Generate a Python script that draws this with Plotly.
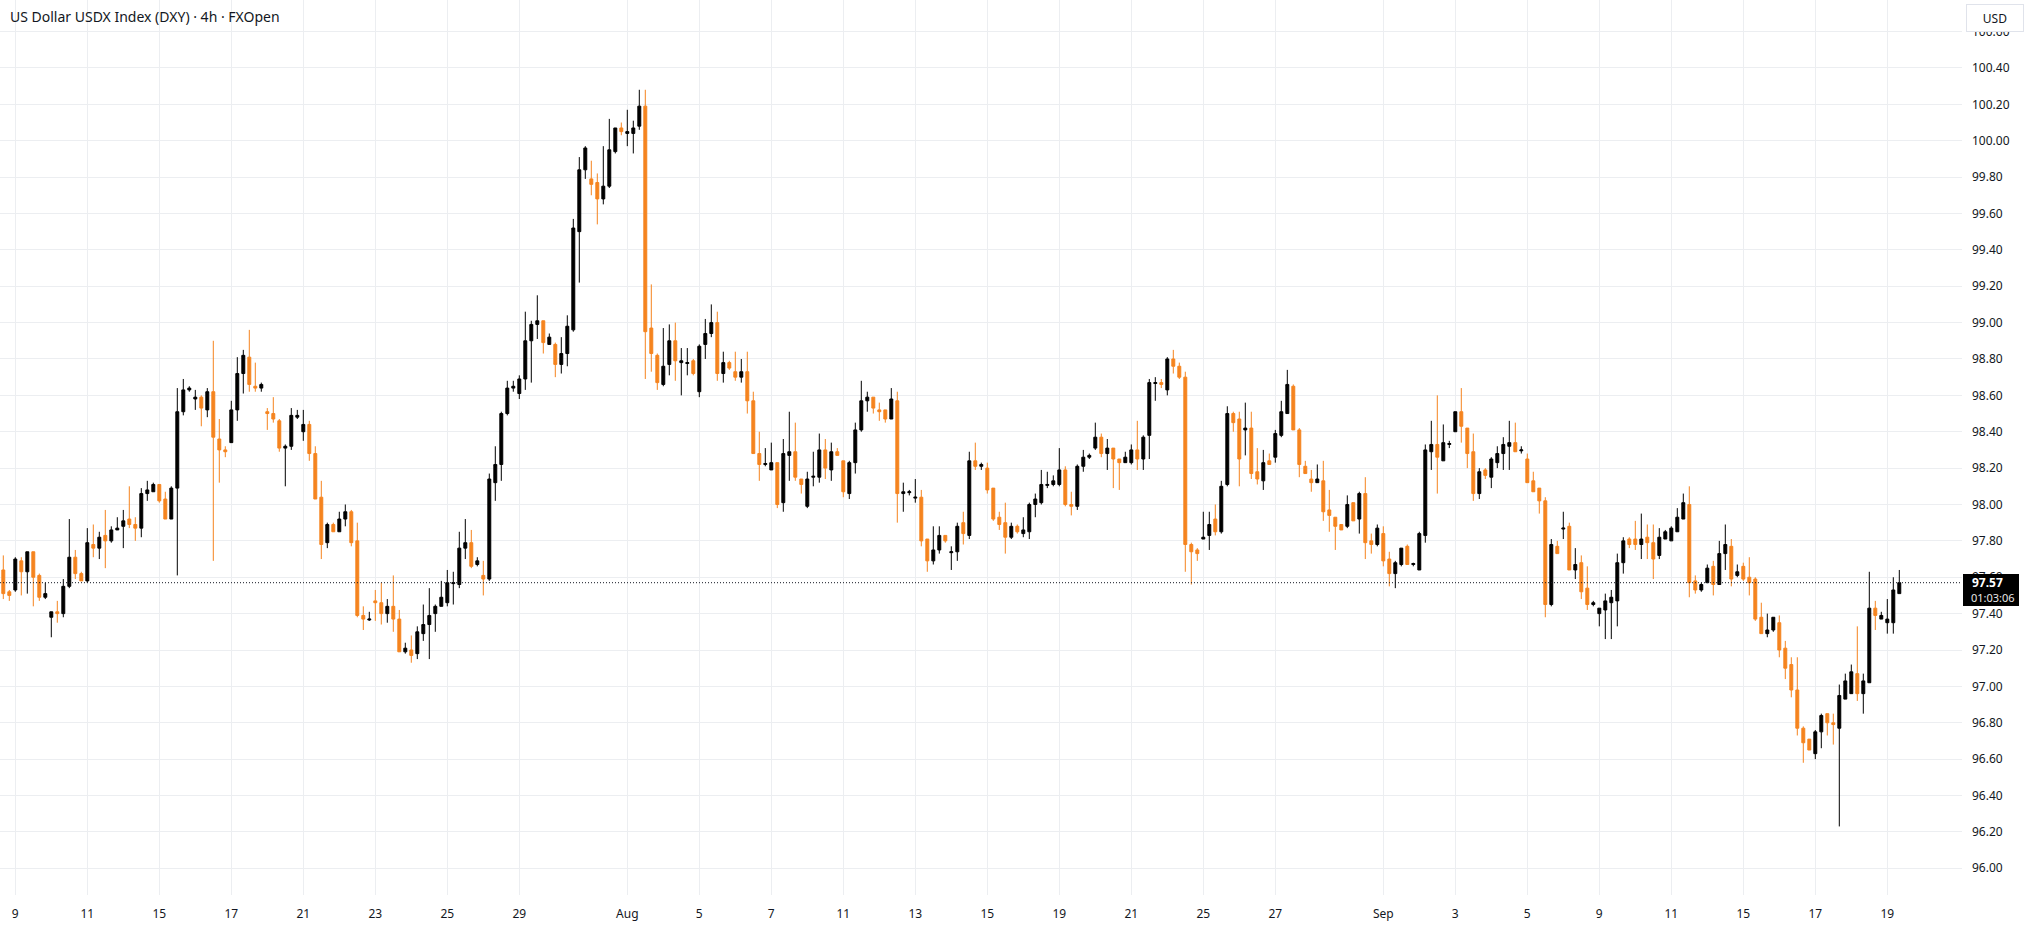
import plotly.graph_objects as go

# ---------------- data (4h candles, oldest first) ----------------
opens = [
    97.64, 97.52, 97.53, 97.69, 97.63, 97.74, 97.61, 97.49, 97.38, 97.41,
    97.40, 97.55, 97.71, 97.62, 97.58, 97.78, 97.76, 97.83, 97.80, 97.86,
    97.88, 97.92, 97.89, 97.87, 98.06, 98.07, 98.11, 98.03, 97.92, 98.09,
    98.51, 98.63, 98.58, 98.59, 98.52, 98.62, 98.36, 98.30, 98.34, 98.52,
    98.72, 98.81, 98.65, 98.64, 98.51, 98.50, 98.46, 98.31, 98.32, 98.48,
    98.40, 98.44, 98.28, 98.04, 97.79, 97.89, 97.85, 97.92, 97.96, 97.80,
    97.39, 97.365, 97.47, 97.46, 97.40, 97.44, 97.37, 97.19, 97.20, 97.18,
    97.29, 97.34, 97.40, 97.44, 97.46, 97.565, 97.56, 97.76, 97.79, 97.67,
    97.61, 97.59, 98.12, 98.22, 98.50, 98.64, 98.61, 98.69, 98.90, 98.99,
    99.01, 98.88, 98.88, 98.77, 98.83, 98.96, 99.50, 99.84, 99.79, 99.77,
    99.68, 99.75, 99.94, 100.07, 100.04, 100.04, 100.08, 100.19, 98.97, 98.82,
    98.66, 98.77, 98.90, 98.78, 98.775, 98.79, 98.62, 98.88, 98.94, 99.00,
    98.72, 98.78, 98.73, 98.70, 98.73, 98.57, 98.28, 98.22, 98.19, 98.23,
    98.01, 98.27, 98.29, 98.14, 97.99, 98.15, 98.15, 98.30, 98.19, 98.29,
    98.24, 98.06, 98.23, 98.41, 98.57, 98.59, 98.52, 98.52, 98.47, 98.57,
    98.06, 98.065, 98.035, 98.04, 97.81, 97.69, 97.75, 97.83, 97.735, 97.74,
    97.90, 97.83, 98.24, 98.21, 98.20, 98.09, 97.93, 97.90, 97.82, 97.88,
    97.84, 97.85, 98.00, 98.01, 98.105, 98.11, 98.11, 98.19, 98.00, 97.99,
    98.21, 98.26, 98.31, 98.37, 98.28, 98.31, 98.25, 98.23, 98.23, 98.30,
    98.25, 98.38, 98.665, 98.67, 98.63, 98.80, 98.76, 98.70, 97.78, 97.75,
    97.81, 97.83, 97.92, 97.85, 98.11, 98.50, 98.47, 98.41, 98.42, 98.18,
    98.13, 98.24, 98.26, 98.38, 98.50, 98.65, 98.41, 98.21, 98.14, 98.12,
    98.13, 97.97, 97.93, 97.89, 97.88, 98.01, 97.92, 98.06, 97.80, 97.78,
    97.84, 97.70, 97.62, 97.67, 97.77, 97.67, 97.64, 97.83, 98.29, 98.33,
    98.24, 98.33, 98.40, 98.51, 98.42, 98.29, 98.06, 98.19, 98.15, 98.23,
    98.28, 98.32, 98.34, 98.295, 98.25, 98.13, 98.09, 98.02, 97.45, 97.77,
    97.865, 97.88, 97.64, 97.68, 97.54, 97.45, 97.40, 97.42, 97.46, 97.47,
    97.68, 97.81, 97.81, 97.78, 97.82, 97.79, 97.72, 97.81, 97.80, 97.85,
    97.92, 98.00, 97.58, 97.53, 97.57, 97.66, 97.56, 97.73, 97.77, 97.61,
    97.66, 97.60, 97.59, 97.38, 97.29, 97.31, 97.35, 97.21, 97.12, 96.98,
    96.77, 96.71, 96.63, 96.75, 96.85, 96.80, 96.77, 96.93, 96.96, 97.07,
    96.96, 97.02, 97.43, 97.37, 97.35, 97.35, 97.51,
]
highs = [
    97.72, 97.53, 97.71, 97.71, 97.74, 97.74, 97.62, 97.57, 97.41, 97.47,
    97.59, 97.92, 97.75, 97.63, 97.87, 97.89, 97.85, 97.97, 97.88, 97.93,
    97.97, 98.10, 97.93, 98.09, 98.13, 98.12, 98.11, 98.07, 98.10, 98.64,
    98.69, 98.65, 98.63, 98.60, 98.64, 98.90, 98.47, 98.32, 98.57, 98.81,
    98.85, 98.96, 98.78, 98.67, 98.53, 98.59, 98.47, 98.33, 98.53, 98.52,
    98.52, 98.46, 98.32, 98.13, 97.90, 97.90, 97.96, 98.00, 97.97, 97.90,
    97.44, 97.41, 97.53, 97.57, 97.48, 97.61, 97.42, 97.24, 97.28, 97.33,
    97.45, 97.54, 97.45, 97.58, 97.64, 97.63, 97.85, 97.92, 97.86, 97.71,
    97.69, 98.17, 98.32, 98.51, 98.68, 98.68, 98.71, 99.06, 99.01, 99.15,
    99.01, 98.94, 98.89, 98.92, 99.04, 99.57, 99.91, 99.97, 99.89, 99.82,
    99.97, 100.12, 100.07, 100.10, 100.17, 100.11, 100.28, 100.28, 99.21, 98.83,
    98.97, 98.99, 99.00, 98.86, 98.86, 98.80, 98.88, 99.02, 99.10, 99.06,
    98.84, 98.79, 98.84, 98.80, 98.84, 98.62, 98.40, 98.31, 98.34, 98.23,
    98.36, 98.51, 98.45, 98.14, 98.18, 98.29, 98.39, 98.36, 98.34, 98.31,
    98.24, 98.24, 98.45, 98.68, 98.62, 98.59, 98.56, 98.52, 98.64, 98.62,
    98.12, 98.08, 98.14, 98.08, 97.81, 97.88, 97.88, 97.83, 97.77, 97.90,
    97.96, 98.29, 98.34, 98.23, 98.23, 98.09, 97.96, 98.01, 97.90, 97.89,
    97.93, 98.01, 98.06, 98.19, 98.18, 98.16, 98.31, 98.21, 98.07, 98.22,
    98.30, 98.28, 98.45, 98.39, 98.36, 98.31, 98.25, 98.29, 98.33, 98.46,
    98.38, 98.69, 98.70, 98.69, 98.81, 98.85, 98.78, 98.73, 97.79, 97.76,
    97.96, 97.96, 98.00, 98.13, 98.54, 98.51, 98.51, 98.56, 98.51, 98.31,
    98.30, 98.28, 98.41, 98.57, 98.74, 98.66, 98.42, 98.24, 98.19, 98.22,
    98.24, 98.08, 97.93, 97.89, 98.05, 98.01, 98.07, 98.15, 97.84, 97.89,
    97.88, 97.74, 97.69, 97.76, 97.78, 97.68, 97.85, 98.33, 98.46, 98.60,
    98.44, 98.35, 98.51, 98.64, 98.42, 98.39, 98.20, 98.20, 98.26, 98.32,
    98.37, 98.46, 98.45, 98.32, 98.28, 98.18, 98.09, 98.04, 97.81, 97.80,
    97.96, 97.90, 97.76, 97.72, 97.66, 97.47, 97.43, 97.51, 97.53, 97.73,
    97.82, 97.82, 97.91, 97.95, 97.89, 97.89, 97.87, 97.86, 97.88, 97.98,
    98.06, 98.10, 97.61, 97.57, 97.67, 97.69, 97.80, 97.89, 97.81, 97.67,
    97.68, 97.71, 97.60, 97.46, 97.40, 97.38, 97.39, 97.25, 97.16, 97.16,
    96.78, 96.71, 96.76, 96.85, 96.85, 96.85, 97.01, 97.07, 97.12, 97.33,
    97.07, 97.63, 97.47, 97.41, 97.48, 97.60, 97.64,
]
lows = [
    97.48, 97.47, 97.52, 97.50, 97.51, 97.44, 97.47, 97.48, 97.27, 97.35,
    97.38, 97.54, 97.59, 97.58, 97.57, 97.71, 97.70, 97.65, 97.79, 97.86,
    97.76, 97.87, 97.80, 97.82, 98.02, 98.07, 98.01, 97.92, 97.92, 97.61,
    98.49, 98.62, 98.52, 98.43, 98.48, 97.69, 98.12, 98.26, 98.34, 98.46,
    98.61, 98.62, 98.62, 98.62, 98.41, 98.45, 98.29, 98.10, 98.30, 98.47,
    98.35, 98.24, 98.03, 97.70, 97.76, 97.85, 97.85, 97.88, 97.77, 97.38,
    97.31, 97.36, 97.36, 97.34, 97.35, 97.30, 97.19, 97.18, 97.13, 97.15,
    97.25, 97.15, 97.30, 97.44, 97.44, 97.45, 97.54, 97.70, 97.65, 97.66,
    97.50, 97.58, 98.02, 98.13, 98.49, 98.62, 98.58, 98.63, 98.67, 98.91,
    98.83, 98.88, 98.70, 98.72, 98.76, 98.95, 99.22, 99.79, 99.70, 99.54,
    99.65, 99.74, 99.93, 100.03, 99.97, 99.93, 100.06, 98.69, 98.73, 98.63,
    98.65, 98.71, 98.68, 98.60, 98.71, 98.71, 98.59, 98.80, 98.92, 98.68,
    98.67, 98.74, 98.68, 98.67, 98.50, 98.28, 98.13, 98.21, 98.19, 97.98,
    97.96, 98.13, 98.13, 98.06, 97.98, 98.10, 98.12, 98.14, 98.13, 98.27,
    98.04, 98.03, 98.17, 98.40, 98.51, 98.50, 98.46, 98.45, 98.47, 97.90,
    97.96, 98.05, 98.01, 97.77, 97.63, 97.67, 97.73, 97.79, 97.64, 97.69,
    97.78, 97.81, 98.19, 98.19, 98.06, 97.91, 97.86, 97.73, 97.81, 97.84,
    97.82, 97.81, 97.93, 98.00, 98.09, 98.10, 98.10, 97.99, 97.94, 97.97,
    98.18, 98.25, 98.30, 98.26, 98.19, 98.09, 98.08, 98.23, 98.22, 98.19,
    98.19, 98.25, 98.57, 98.64, 98.60, 98.72, 98.69, 97.63, 97.56, 97.69,
    97.81, 97.75, 97.83, 97.84, 98.10, 98.40, 98.10, 98.27, 98.14, 98.11,
    98.08, 98.22, 98.23, 98.37, 98.50, 98.41, 98.15, 98.17, 98.07, 98.12,
    97.91, 97.85, 97.75, 97.86, 97.87, 97.91, 97.84, 97.70, 97.73, 97.77,
    97.66, 97.55, 97.54, 97.66, 97.67, 97.66, 97.64, 97.79, 98.19, 98.06,
    98.24, 98.31, 98.40, 98.34, 98.20, 98.02, 98.03, 98.14, 98.09, 98.20,
    98.19, 98.19, 98.29, 98.28, 98.12, 98.07, 97.95, 97.38, 97.44, 97.73,
    97.81, 97.64, 97.59, 97.48, 97.42, 97.44, 97.33, 97.26, 97.26, 97.33,
    97.62, 97.76, 97.75, 97.70, 97.70, 97.59, 97.70, 97.81, 97.80, 97.85,
    97.92, 97.49, 97.51, 97.52, 97.57, 97.50, 97.56, 97.64, 97.55, 97.60,
    97.58, 97.50, 97.36, 97.29, 97.27, 97.30, 97.16, 97.04, 96.94, 96.73,
    96.58, 96.65, 96.60, 96.66, 96.73, 96.68, 96.23, 96.93, 96.96, 96.92,
    96.85, 97.02, 97.31, 97.37, 97.29, 97.29, 97.51,
]
closes = [
    97.51, 97.50, 97.70, 97.63, 97.74, 97.60, 97.49, 97.51, 97.41, 97.40,
    97.55, 97.71, 97.62, 97.58, 97.79, 97.76, 97.82, 97.80, 97.86, 97.87,
    97.91, 97.89, 97.87, 98.06, 98.08, 98.11, 98.02, 97.92, 98.09, 98.51,
    98.63, 98.64, 98.59, 98.53, 98.62, 98.37, 98.30, 98.29, 98.52, 98.72,
    98.82, 98.66, 98.64, 98.66, 98.50, 98.47, 98.31, 98.32, 98.49, 98.49,
    98.44, 98.28, 98.03, 97.78, 97.89, 97.85, 97.92, 97.96, 97.79, 97.39,
    97.37, 97.37, 97.46, 97.40, 97.44, 97.37, 97.19, 97.21, 97.17, 97.30,
    97.34, 97.39, 97.44, 97.49, 97.57, 97.57, 97.76, 97.79, 97.66, 97.69,
    97.59, 98.14, 98.22, 98.50, 98.64, 98.65, 98.69, 98.90, 98.99, 99.01,
    98.89, 98.92, 98.77, 98.83, 98.98, 99.52, 99.84, 99.96, 99.76, 99.68,
    99.75, 99.95, 100.07, 100.05, 100.05, 100.07, 100.19, 98.95, 98.83, 98.67,
    98.76, 98.90, 98.79, 98.79, 98.78, 98.72, 98.87, 98.94, 99.00, 98.72,
    98.78, 98.75, 98.70, 98.73, 98.57, 98.28, 98.22, 98.225, 98.23, 98.00,
    98.28, 98.29, 98.15, 98.11, 98.14, 98.155, 98.30, 98.20, 98.29, 98.27,
    98.07, 98.23, 98.41, 98.57, 98.59, 98.53, 98.51, 98.47, 98.58, 98.06,
    98.07, 98.07, 98.04, 97.80, 97.69, 97.75, 97.83, 97.80, 97.74, 97.88,
    97.84, 98.24, 98.21, 98.22, 98.08, 97.92, 97.89, 97.82, 97.88, 97.85,
    97.86, 98.00, 98.03, 98.11, 98.11, 98.13, 98.19, 98.00, 97.99, 98.21,
    98.26, 98.27, 98.37, 98.28, 98.31, 98.25, 98.23, 98.26, 98.30, 98.25,
    98.37, 98.67, 98.67, 98.66, 98.80, 98.76, 98.70, 97.78, 97.74, 97.73,
    97.82, 97.89, 97.85, 98.10, 98.50, 98.45, 98.25, 98.42, 98.17, 98.14,
    98.23, 98.22, 98.39, 98.51, 98.66, 98.41, 98.22, 98.17, 98.12, 98.14,
    97.96, 97.94, 97.88, 97.86, 98.00, 97.91, 98.06, 97.79, 97.78, 97.87,
    97.69, 97.62, 97.68, 97.76, 97.67, 97.675, 97.84, 98.30, 98.33, 98.26,
    98.34, 98.335, 98.51, 98.43, 98.28, 98.06, 98.18, 98.16, 98.25, 98.28,
    98.33, 98.34, 98.29, 98.30, 98.12, 98.07, 98.02, 97.45, 97.78, 97.73,
    97.87, 97.64, 97.67, 97.52, 97.45, 97.46, 97.43, 97.47, 97.49, 97.68,
    97.80, 97.78, 97.78, 97.81, 97.79, 97.70, 97.82, 97.85, 97.87, 97.93,
    98.01, 97.57, 97.53, 97.56, 97.65, 97.56, 97.73, 97.78, 97.59, 97.63,
    97.59, 97.57, 97.37, 97.29, 97.31, 97.38, 97.20, 97.10, 96.98, 96.77,
    96.69, 96.65, 96.75, 96.84, 96.80, 96.79, 96.95, 97.03, 97.08, 96.96,
    97.03, 97.43, 97.39, 97.39, 97.37, 97.53, 97.57,
]

# time-axis labels: bar index where each labelled day starts
tick_bars = [2, 14, 26, 38, 50, 62, 74, 86, 104, 116, 128, 140, 152, 164,
             176, 188, 200, 212, 230, 242, 254, 266, 278, 290, 302, 314]
tick_labels = ["9", "11", "15", "17", "21", "23", "25", "29", "Aug", "5", "7",
               "11", "13", "15", "19", "21", "25", "27", "Sep", "3", "5", "9",
               "11", "15", "17", "19"]
price_ticks = [96.00, 96.20, 96.40, 96.60, 96.80, 97.00, 97.20, 97.40, 97.60,
               97.80, 98.00, 98.20, 98.40, 98.60, 98.80, 99.00, 99.20, 99.40,
               99.60, 99.80, 100.00, 100.20, 100.40, 100.60]
price_labels = ["%.2f" % v for v in price_ticks]
last_price = 97.57
countdown = "01:03:06"
title_text = "US Dollar USDX Index (DXY) · 4h · FXOpen"
currency = "USD"

UP = "#000000"
DOWN = "#F5841F"
GRID = "#eceef1"
TXT = "#131722"
FONT = "Noto Sans"

bars = list(range(len(opens)))

fig = go.Figure(go.Candlestick(
    x=bars, open=opens, high=highs, low=lows, close=closes,
    increasing=dict(line=dict(color=UP, width=1), fillcolor=UP),
    decreasing=dict(line=dict(color=DOWN, width=1), fillcolor=DOWN),
    whiskerwidth=0,
))

fig.update_layout(
    width=2028, height=927,
    margin=dict(l=0, r=66, t=0, b=32),
    paper_bgcolor="white", plot_bgcolor="white",
    showlegend=False,
    boxgap=0.3,
    font=dict(family=FONT, size=12, color=TXT),
    xaxis=dict(
        range=[-0.55, 326.45],
        tickmode="array", tickvals=tick_bars, ticktext=tick_labels,
        showgrid=True, gridcolor=GRID, gridwidth=1,
        zeroline=False, showline=False, ticks="",
        rangeslider=dict(visible=False),
        tickfont=dict(family=FONT, size=12, color=TXT),
        ticklabelstandoff=10,
    ),
    yaxis=dict(
        side="right",
        range=[95.853, 100.7736],
        tickmode="array", tickvals=price_ticks, ticktext=price_labels,
        showgrid=True, gridcolor=GRID, gridwidth=1,
        zeroline=False, showline=False, ticks="",
        tickfont=dict(family=FONT, size=12, color=TXT),
        ticklabelstandoff=9,
    ),
)

# last price dotted line
fig.add_shape(type="line", xref="paper", x0=0, x1=1, yref="y",
              y0=last_price, y1=last_price,
              line=dict(color=TXT, width=1, dash="1px,2px"), layer="above")

# price label box
fig.add_annotation(xref="paper", x=1, xanchor="left", xshift=1,
                   yref="y", y=last_price, yanchor="top", yshift=9,
                   text=" ", showarrow=False, bgcolor="#000000",
                   width=56, height=32, borderwidth=0, borderpad=0)
fig.add_annotation(xref="paper", x=1, xanchor="left", xshift=8,
                   yref="y", y=last_price, yanchor="middle", yshift=0,
                   text="<b>%.2f</b>" % last_price, showarrow=False,
                   font=dict(family=FONT, size=12, color="#ffffff"))
fig.add_annotation(xref="paper", x=1, xanchor="left", xshift=7,
                   yref="y", y=last_price, yanchor="middle", yshift=-15,
                   text=countdown, showarrow=False,
                   font=dict(family=FONT, size=11, color="#e6e6e6"))

# currency box
fig.add_annotation(xref="paper", x=1, xanchor="left", xshift=4,
                   yref="paper", y=1, yanchor="top", yshift=-4,
                   text=currency, showarrow=False, bgcolor="#ffffff",
                   bordercolor="#e0e3eb", borderwidth=1, borderpad=0,
                   width=56, height=26,
                   font=dict(family=FONT, size=12, color=TXT))

# title
fig.add_annotation(xref="paper", x=0, xanchor="left", xshift=8,
                   yref="paper", y=1, yanchor="middle", yshift=-16,
                   text=title_text, showarrow=False,
                   font=dict(family=FONT, size=14, color=TXT))

fig.write_html("out.html")
